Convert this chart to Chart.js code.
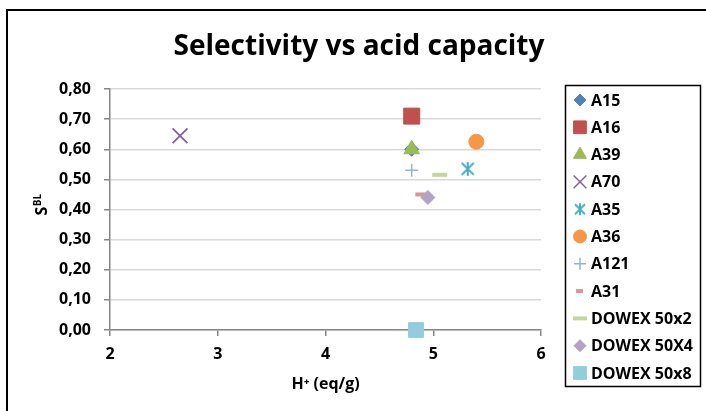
<!DOCTYPE html>
<html lang="en">
<head>
    <meta charset="UTF-8">
    <title>Selectivity vs acid capacity</title>
    <style>
        html, body { margin: 0; padding: 0; background: #fff; }
        #wrap { width: 706px; height: 411px; }
    </style>
</head>
<body>

    <div id="wrap">
        <canvas id="myChart" width="706" height="411"></canvas>
    </div>

    <script src="https://cdn.jsdelivr.net/npm/chart.js"></script>

    <script>

        // Resins, acid capacity H+ (eq/g) and selectivity S^BL
        const resins = ['A15', 'A16', 'A39', 'A70', 'A35', 'A36', 'A121', 'A31', 'DOWEX 50x2', 'DOWEX 50X4', 'DOWEX 50x8'];
        const hPlus = [4.80, 4.80, 4.80, 2.65, 5.32, 5.40, 4.80, 4.88, 5.06, 4.95, 4.84];
        const sBL = [0.60, 0.71, 0.60, 0.645, 0.535, 0.625, 0.53, 0.45, 0.515, 0.44, 0.00];

        const yTicks = [0, 0.1, 0.2, 0.3, 0.4, 0.5, 0.6, 0.7, 0.8];
        const xTicks = [2, 3, 4, 5, 6];

        const colors = ['#4f81bd', '#c0504d', '#9bbb59', '#8064a2', '#4bacc6', '#f79646',
                        '#95b3d7', '#d99694', '#c3d69b', '#b3a2c7', '#92cddc'];

        // asterisk marker: an x with a vertical stroke
        function asterisk(size, color) {
            const c = document.createElement('canvas');
            c.width = size; c.height = size;
            const g = c.getContext('2d');
            g.strokeStyle = color;
            g.lineWidth = 2;
            g.beginPath();
            g.moveTo(2, 2); g.lineTo(size - 2, size - 2);
            g.moveTo(size - 2, 2); g.lineTo(2, size - 2);
            g.moveTo(size / 2, 1); g.lineTo(size / 2, size - 1);
            g.stroke();
            return c;
        }

        const markers = [
            { style: 'rectRot', r: 7, bw: 1 },
            { style: 'rect', r: 11.3, bw: 1 },
            { style: 'triangle', r: 9, bw: 1 },
            { style: 'crossRot', r: 10.5, bw: 1.8 },
            { style: asterisk(16, colors[4]), r: 8, bw: 1 },
            { style: 'circle', r: 7.5, bw: 1 },
            { style: 'cross', r: 6.5, bw: 1.5 },
            { style: 'line', r: 5, bw: 4 },
            { style: 'line', r: 7.5, bw: 4 },
            { style: 'rectRot', r: 7, bw: 1 },
            { style: 'rect', r: 10.5, bw: 1 }
        ];

        const legendMarkers = [
            { style: 'rectRot', r: 6 },
            { style: 'rect', r: 9 },
            { style: 'triangle', r: 7.5 },
            { style: 'crossRot', r: 9 },
            { style: asterisk(14, colors[4]), r: 7 },
            { style: 'circle', r: 6.5 },
            { style: 'cross', r: 6 },
            { style: 'dash', r: 7 },
            { style: 'line', r: 7 },
            { style: 'rectRot', r: 6 },
            { style: 'rect', r: 9 }
        ];

        const datasets = resins.map((name, i) => ({
            label: name,
            data: [{ x: hPlus[i], y: sBL[i] }],
            pointStyle: markers[i].style,
            pointRadius: markers[i].r,
            pointHoverRadius: markers[i].r,
            pointBorderWidth: markers[i].bw,
            backgroundColor: colors[i],
            borderColor: colors[i],
            clip: false,
            // later series sit on top
            order: resins.length - i
        }));

        const FONT = "'Open Sans', 'DejaVu Sans', sans-serif";

        // frame, title, y axis title and boxed legend
        const decorations = {
            id: 'decorations',
            beforeDraw(chart) {
                const c = chart.ctx;
                c.save();
                c.fillStyle = '#fff';
                c.fillRect(0, 0, chart.width, chart.height);
                c.fillStyle = '#000';
                c.fillRect(6, 9, chart.width, 2);
                c.fillRect(6, 9, 2, chart.height);
                c.restore();
            },
            afterDraw(chart) {
                const c = chart.ctx;
                c.save();

                c.fillStyle = '#000';
                c.font = 'bold 28px ' + FONT;
                c.textAlign = 'center';
                c.textBaseline = 'alphabetic';
                c.fillText('Selectivity vs acid capacity', 359, 55);

                // S with superscript BL, rotated
                c.translate(47, 205);
                c.rotate(-Math.PI / 2);
                c.textAlign = 'left';
                c.font = 'bold 16px ' + FONT;
                const sw = c.measureText('S').width;
                c.font = 'bold 10px ' + FONT;
                const bw = c.measureText('BL').width;
                const start = -(sw + bw) / 2;
                c.font = 'bold 16px ' + FONT;
                c.fillText('S', start, 0);
                c.font = 'bold 10px ' + FONT;
                c.fillText('BL', start + sw + 0.5, -6);
                c.setTransform(1, 0, 0, 1, 0, 0);

                // legend
                c.lineWidth = 1.5;
                c.strokeStyle = '#000';
                c.strokeRect(565.5, 85.5, 135, 301);
                c.font = 'bold 16px ' + FONT;
                c.textAlign = 'left';
                c.textBaseline = 'middle';
                resins.forEach((name, i) => {
                    const y = 100 + i * 27.3;
                    const m = legendMarkers[i];
                    c.fillStyle = colors[i];
                    c.strokeStyle = colors[i];
                    c.lineWidth = (m.style === 'line' || m.style === 'dash') ? 4 : (m.style === 'crossRot' || m.style === 'cross' ? 1.5 : 1);
                    Chart.helpers.drawPoint(c, {
                        pointStyle: m.style,
                        radius: m.r,
                        rotation: 0,
                        borderWidth: c.lineWidth
                    }, m.style === 'dash' ? 576 : 580, y);
                    c.fillStyle = '#000';
                    c.fillText(name, 591, y + 1);
                });
                c.restore();
            }
        };

        const ctx = document.getElementById('myChart');

        new Chart(ctx, {
            type: 'scatter',
            data: { datasets: datasets },
            options: {
                responsive: false,
                animation: false,
                layout: {
                    padding: { left: 8, right: 165, top: 89, bottom: 17 }
                },
                plugins: {
                    legend: { display: false },
                    title: { display: false },
                    tooltip: { enabled: false }
                },
                scales: {
                    x: {
                        type: 'linear',
                        min: 2,
                        max: 6,
                        afterBuildTicks(scale) {
                            scale.ticks = xTicks.map(v => ({ value: v }));
                        },
                        afterFit(scale) { scale.height = 64; },
                        grid: {
                            drawOnChartArea: false,
                            tickLength: 6,
                            tickColor: '#868686',
                            lineWidth: 1.5
                        },
                        border: { color: '#868686', width: 1.5 },
                        ticks: {
                            color: '#000',
                            padding: 9,
                            font: { family: FONT, size: 16, weight: 'bold' }
                        },
                        title: {
                            display: true,
                            text: 'H\u207A (eq/g)',
                            color: '#000',
                            padding: { top: 4, bottom: 0 },
                            font: { family: FONT, size: 16, weight: 'bold' }
                        }
                    },
                    y: {
                        type: 'linear',
                        min: 0,
                        max: 0.8,
                        afterBuildTicks(scale) {
                            scale.ticks = yTicks.map(v => ({ value: v }));
                        },
                        afterFit(scale) { scale.width = 102; },
                        grid: {
                            color: '#d9d9d9',
                            lineWidth: 1.5,
                            tickLength: 6,
                            tickColor: '#868686'
                        },
                        border: { color: '#868686', width: 1.5 },
                        ticks: {
                            color: '#000',
                            padding: 13,
                            font: { family: FONT, size: 16, weight: 'bold' },
                            callback: v => v.toFixed(2).replace('.', ',')
                        }
                    }
                }
            },
            plugins: [decorations]
        });
    </script>

</body>
</html>
